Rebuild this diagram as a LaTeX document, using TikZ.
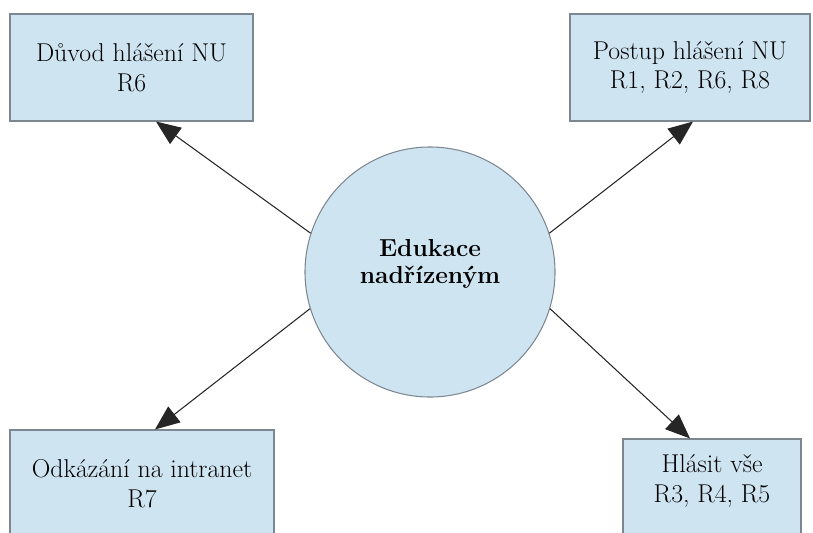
\documentclass[tikz,border=0pt]{standalone}
\definecolor{boxfill}{RGB}{207,228,241}
\definecolor{boxline}{RGB}{125,135,145}
\usetikzlibrary{arrows.meta, calc}

\begin{document}
\begin{tikzpicture}[x=0.03cm, y=-0.03cm,
  topic/.style={draw=boxline, fill=boxfill, line width=0.9pt, align=center,
    font=\fontsize{22}{25.5}\selectfont},
  link/.style={draw=black!85, line width=0.9pt, -{Triangle[length=21pt,width=17pt]}}]
  \useasboundingbox (0,0) rectangle (813,533);

  % Centre
  \node[circle, draw=boxline, fill=boxfill, line width=0.9pt, minimum size=7.5cm,
    align=center, text depth=18pt, font=\fontsize{21}{23}\selectfont\bfseries] (edu) at (430,272)
    {Edukace\\nadřízeným};

  % Topics
  \node[topic, minimum width=7.29cm, minimum height=3.21cm] (duvod) at (131.5,67.5)
    {Důvod hlášení NU\\R6};
  \node[topic, minimum width=7.2cm, minimum height=3.21cm] (postup) at (690,67.5)
    {Postup hlášení NU\\R1, R2, R6, R8};
  \node[topic, minimum width=7.92cm, minimum height=3.21cm] (odkaz) at (142,483.5)
    {Odkázání na intranet\\R7};
  \node[topic, minimum width=5.34cm, minimum height=3.21cm, text depth=24pt] (hlasit) at (712,492.5)
    {Hlásit vše\\R3, R4, R5};

  % Arrow ends
  \coordinate (duvodEnd) at ($(duvod.south)+(24.5,0)$);
  \coordinate (postupEnd) at ($(postup.south)+(3,0)$);
  \coordinate (odkazEnd) at ($(odkaz.north)+(13,0)$);
  \coordinate (hlasitEnd) at ($(hlasit.north)+(-22,0)$);

  % Arrows
  \draw[link] (edu.162) -- (duvodEnd);
  \draw[link] (edu.18) -- (postupEnd);
  \draw[link] (edu.197) -- (odkazEnd);
  \draw[link] (edu.343) -- (hlasitEnd);
\end{tikzpicture}
\end{document}
